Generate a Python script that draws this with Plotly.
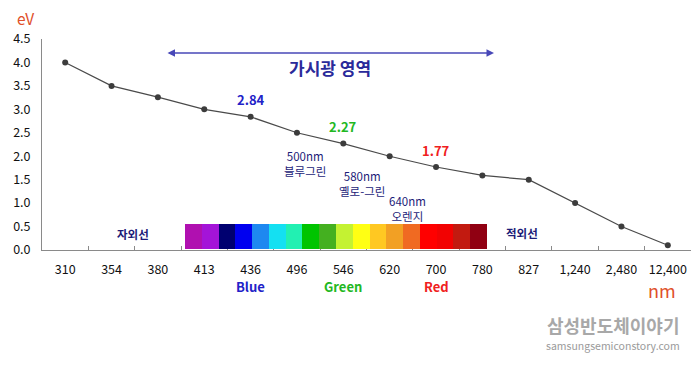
import plotly.graph_objects as go

# ---- data ----
wavelengths = ["310", "354", "380", "413", "436", "496", "546", "620", "700", "780",
               "827", "1,240", "2,480", "12,400"]
energy_ev = [4.0, 3.5, 3.26, 3.0, 2.84, 2.5, 2.27, 2.0, 1.77, 1.59, 1.5, 1.0, 0.5, 0.1]

spectrum_colors = ["#b010b0", "#a414d8", "#000070", "#0000f0", "#1e88f0", "#14e0f2",
                   "#22f0b2", "#00c400", "#44b020", "#c4f232", "#ffff14", "#ffc822",
                   "#f2a024", "#f06a22", "#ff0000", "#f20202", "#c21a10", "#900012"]
spectrum_slots = list(range(len(spectrum_colors)))

highlight_labels = [("436", 2.84, "2.84", "#2222c8"),
                    ("546", 2.27, "2.27", "#22b822"),
                    ("700", 1.77, "1.77", "#f02020")]

color_names = [("436", "Blue", "#2222c8"), ("546", "Green", "#22b822"), ("700", "Red", "#f02020")]

# ---- layout geometry (screen pixels; page body has an 8px margin) ----
OFF = 8
W, H = 700 - 2 * OFF, 366 - 2 * OFF
PX0, PX1, PY0, PY1 = 42, 691, 39, 250   # plot area on screen
L, R = PX0 - OFF, (OFF + W) - PX1
T, B = PY0 - OFF, (OFF + H) - PY1
PW = PX1 - PX0
PH = PY1 - PY0

def pxx(x):
    return (x - PX0) / PW

def pxy(y):
    return (PY1 - y) / PH

FONT = "Noto Sans CJK KR"
NAVY = "#1c1c78"

fig = go.Figure()

# color spectrum strip
fig.add_trace(go.Bar(
    x=[s + 0.5 for s in spectrum_slots],
    y=[0.535] * len(spectrum_slots),
    base=0.02,
    width=1.0,
    marker=dict(color=spectrum_colors, line=dict(width=0)),
    xaxis="x2", yaxis="y",
    hoverinfo="skip", showlegend=False,
))

# energy line
fig.add_trace(go.Scatter(
    x=wavelengths, y=energy_ev,
    mode="lines+markers",
    line=dict(color="#4a4a4a", width=1.2),
    marker=dict(color="#3c3c3c", size=6),
    showlegend=False,
))

annotations = []

# value labels above points (category axis -> use category index)
for cat, val, txt, col in highlight_labels:
    annotations.append(dict(x=wavelengths.index(cat), y=val, xref="x", yref="y",
                            text=f"<b>{txt}</b>",
                            showarrow=False, yshift=17, xanchor="center", yanchor="middle",
                            font=dict(family=FONT, size=13, color=col)))

# color names below axis
for cat, txt, col in color_names:
    annotations.append(dict(x=wavelengths.index(cat), y=pxy(286), xref="x", yref="paper",
                            text=f"<b>{txt}</b>",
                            showarrow=False, xanchor="center", yanchor="middle",
                            font=dict(family=FONT, size=13, color=col)))

def txt(x, y, t, size, color, bold=False):
    annotations.append(dict(x=pxx(x), y=pxy(y), xref="paper", yref="paper",
                            text=f"<b>{t}</b>" if bold else t, showarrow=False,
                            xanchor="center", yanchor="middle",
                            font=dict(family=FONT, size=size, color=color)))

txt(25, 18, "eV", 15.5, "#e0502a")
txt(662, 290, "nm", 18, "#e0502a")
txt(330, 67, "가시광 영역", 17, "#2a2a9a", bold=True)
txt(305, 163, "500nm<br>블루그린", 11.5, NAVY)
txt(362, 183, "580nm<br>옐로-그린", 11.5, NAVY)
txt(407, 208, "640nm<br>오렌지", 11.5, NAVY)
txt(133, 234, "자외선", 11.5, NAVY, bold=True)
txt(522, 233, "적외선", 11.5, NAVY, bold=True)
txt(613, 325, "<b>삼성반도체이야기</b>", 18, "#a8a8a8")
txt(613, 345, "samsungsemiconstory.com", 10.5, "#9a9a9a")

# double-headed arrow for visible range
annotations.append(dict(x=pxx(494), y=pxy(53), xref="paper", yref="paper",
                        ax=-(494 - 166), ay=0, axref="pixel", ayref="pixel",
                        text="", showarrow=True, arrowhead=2, arrowside="end+start",
                        arrowsize=1, arrowwidth=1.5, arrowcolor="#4848b8"))

fig.update_layout(
    width=W, height=H,
    margin=dict(l=L, r=R, t=T, b=B, pad=0),
    paper_bgcolor="white", plot_bgcolor="rgba(0,0,0,0)",
    bargap=0,
    annotations=annotations,
    font=dict(family=FONT, color="#111"),
    xaxis=dict(
        type="category", range=[-0.5, 13.5], automargin=False, tickangle=0,
        showline=True, linecolor="#8a8a8a", linewidth=1,
        ticks="inside", ticklen=4, tickcolor="#8a8a8a", tickson="boundaries",
        showgrid=False, zeroline=False,
        tickfont=dict(family=FONT, size=12.5, color="#111"),
        ticklabelstandoff=8,
    ),
    xaxis2=dict(
        range=[0, len(spectrum_colors)],
        domain=[pxx(185), pxx(487)], anchor="y",
        visible=False, showgrid=False, zeroline=False, automargin=False,
    ),
    yaxis=dict(
        range=[0, 4.5], dtick=0.5, tickformat=".1f", automargin=False,
        showline=True, linecolor="#8a8a8a", linewidth=1,
        ticks="", showgrid=False, zeroline=False,
        tickfont=dict(family=FONT, size=12.5, color="#111"),
        ticklabelstandoff=8,
    ),
)

fig.write_html("out.html")
